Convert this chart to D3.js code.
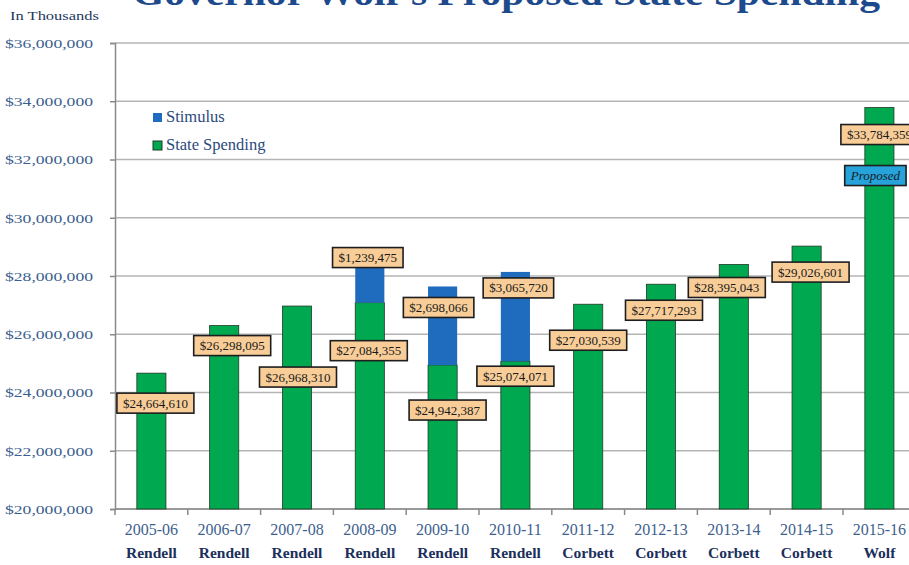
<!DOCTYPE html>
<html>
<head>
<meta charset="utf-8">
<script src="https://cdn.jsdelivr.net/npm/d3@7/dist/d3.min.js"></script>
<style>
  html, body { margin: 0; padding: 0; background: #fff; }
  svg { display: block; }
</style>
</head>
<body>
<svg id="chart" width="909" height="565"></svg>
<script>
// Fiscal years and the governor in office for each
const years = ["2005-06","2006-07","2007-08","2008-09","2009-10","2010-11","2011-12","2012-13","2013-14","2014-15","2015-16"];
const governors = ["Rendell","Rendell","Rendell","Rendell","Rendell","Rendell","Corbett","Corbett","Corbett","Corbett","Wolf"];
// Spending in thousands of dollars
const stateSpending = [24664610, 26298095, 26968310, 27084355, 24942387, 25074071, 27030539, 27717293, 28395043, 29026601, 33784359];
const stimulus = [0, 0, 0, 1239475, 2698066, 3065720, 0, 0, 0, 0, 0];
const yTicks = [20000000, 22000000, 24000000, 26000000, 28000000, 30000000, 32000000, 34000000, 36000000];

// Callout offsets (px) from each segment's top centre
const spendLabelShift = [[4,30],[8,20],[1,71],[-1,48],[5,45],[0,15],[0,36],[3,26],[-7,23],[4,26],[0,27]];
const stimLabelShift = {3: [-2,-9], 4: [-4,21], 5: [3,16]};

const svg = d3.select("#chart");
const plotLeft = 115, plotTop = 43, plotBottom = 509, step = 72.8;
const serif = "'Liberation Serif', 'DejaVu Serif', serif";

const x = d3.scaleBand().domain(years).range([plotLeft, plotLeft + step * years.length]).paddingInner(0.6).paddingOuter(0.3);
const y = d3.scaleLinear().domain([20000000, 36000000]).range([plotBottom, plotTop]);
const cx = i => x(years[i]) + x.bandwidth() / 2;

const fmt = d3.format("$,");

// Title (runs off the top edge)
svg.append("text")
  .attr("x", 506).attr("y", 5)
  .attr("text-anchor", "middle")
  .attr("font-family", serif).attr("font-weight", "bold")
  .attr("font-size", 36).attr("fill", "#1d4a8c")
  .attr("textLength", 748).attr("lengthAdjust", "spacingAndGlyphs")
  .text("Governor Wolf's Proposed State Spending");

svg.append("text")
  .attr("x", 10).attr("y", 20)
  .attr("font-family", serif).attr("font-size", 12.5)
  .attr("fill", "#23375f")
  .attr("textLength", 89).attr("lengthAdjust", "spacingAndGlyphs")
  .text("In Thousands");

// Horizontal gridlines
svg.append("g").selectAll("line").data(yTicks).join("line")
  .attr("x1", plotLeft).attr("x2", 909)
  .attr("y1", d => y(d)).attr("y2", d => y(d))
  .attr("stroke", "#b4b4b4").attr("stroke-width", 1.5);

// Y axis
const yAxis = svg.append("g").attr("transform", `translate(${plotLeft},0)`)
  .call(d3.axisLeft(y).tickValues(yTicks).tickFormat(fmt).tickSize(5).tickPadding(17));
yAxis.select(".domain").attr("stroke", "#8a8a8a").attr("stroke-width", 1.5);
yAxis.selectAll(".tick line").attr("stroke", "#8a8a8a").attr("stroke-width", 1.5);
yAxis.selectAll(".tick text")
  .attr("font-family", serif).attr("font-size", 13.5).attr("fill", "#3d5f8f")
  .attr("textLength", 88).attr("lengthAdjust", "spacingAndGlyphs");

// Bottom axis line with ticks between categories
svg.append("line").attr("x1", plotLeft).attr("x2", 909).attr("y1", plotBottom).attr("y2", plotBottom)
  .attr("stroke", "#8a8a8a").attr("stroke-width", 1.5);
svg.append("g").selectAll("line").data(d3.range(years.length + 1)).join("line")
  .attr("x1", i => plotLeft + i * x.step()).attr("x2", i => plotLeft + i * x.step())
  .attr("y1", plotBottom).attr("y2", plotBottom + 6)
  .attr("stroke", "#8a8a8a").attr("stroke-width", 1.5);

// Category labels
const cat = svg.append("g");
cat.selectAll("text.yr").data(years).join("text").attr("class", "yr")
  .attr("x", (d, i) => cx(i)).attr("y", 535)
  .attr("text-anchor", "middle")
  .attr("font-family", serif).attr("font-size", 16).attr("fill", "#3d5f8f")
  .text(d => d);
cat.selectAll("text.gov").data(governors).join("text").attr("class", "gov")
  .attr("x", (d, i) => cx(i)).attr("y", 558)
  .attr("text-anchor", "middle")
  .attr("font-family", serif).attr("font-weight", "bold").attr("font-size", 15.5).attr("fill", "#1b2f5c")
  .text(d => d);

// Bars: state spending with stimulus stacked on top
const bars = svg.append("g");
bars.selectAll("rect.state").data(stateSpending).join("rect").attr("class", "state")
  .attr("x", (d, i) => x(years[i])).attr("width", x.bandwidth())
  .attr("y", d => y(d)).attr("height", d => y(20000000) - y(d))
  .attr("fill", "#00a84f").attr("stroke", "#1f3a24").attr("stroke-width", 0.8);

const stimRows = stimulus.map((v, i) => ({ v, i, base: stateSpending[i] })).filter(d => d.v > 0);
bars.selectAll("rect.stim").data(stimRows).join("rect").attr("class", "stim")
  .attr("x", d => x(years[d.i])).attr("width", x.bandwidth())
  .attr("y", d => y(d.base + d.v))
  .attr("height", d => y(d.base) - y(d.base + d.v))
  .attr("fill", "#1f6bbd");

// Value callouts
const labels = svg.append("g");
function callout(px, py, text, fill, italic) {
  const g = labels.append("g").attr("transform", `translate(${px},${py})`);
  const t = g.append("text")
    .attr("text-anchor", "middle").attr("dy", "0.35em")
    .attr("font-family", serif).attr("font-size", 13)
    .attr("font-style", italic ? "italic" : "normal")
    .attr("fill", "#1a1a1a").text(text);
  const w = t.node().getComputedTextLength() + 12;
  g.insert("rect", "text")
    .attr("x", -w / 2).attr("y", -10).attr("width", w).attr("height", 20)
    .attr("fill", fill).attr("stroke", "#1e1e1e").attr("stroke-width", 1.6);
}
stateSpending.forEach((v, i) => {
  const [dx, dy] = spendLabelShift[i];
  callout(cx(i) + dx, y(v) + dy, fmt(v), "#f8cd98");
});
stimRows.forEach(d => {
  const [dx, dy] = stimLabelShift[d.i];
  callout(cx(d.i) + dx, y(d.base + d.v) + dy, fmt(d.v), "#f8cd98");
});
// Proposed tag on the final year
const last = years.length - 1;
callout(cx(last) - 4, y(stateSpending[last]) + 68, "Proposed", "#27a3dc", true);

// Legend
const legend = svg.append("g");
const items = [["Stimulus", "#1f6bbd", "none"], ["State Spending", "#00a84f", "#1f3a24"]];
items.forEach(([name, color, stroke], i) => {
  legend.append("rect").attr("x", 153).attr("y", 113 + i * 28).attr("width", 9).attr("height", 9)
    .attr("fill", color).attr("stroke", stroke).attr("stroke-width", 1);
  legend.append("text").attr("x", 166).attr("y", 122 + i * 28)
    .attr("font-family", serif).attr("font-size", 16.5).attr("fill", "#2b4a7c")
    .text(name);
});
</script>
</body>
</html>
